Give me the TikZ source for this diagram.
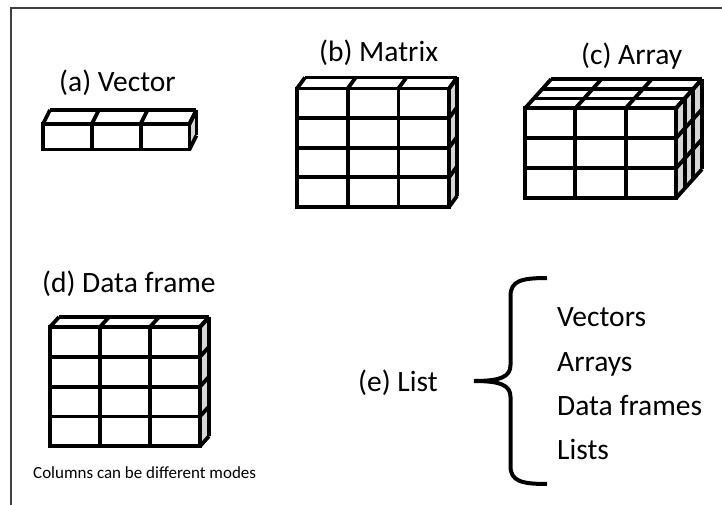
\documentclass[tikz,border=0pt]{standalone}
\usepackage{fontspec}
\setmainfont{Carlito}
\tikzset{
  frameline/.style={draw=black!75, line width=1.3pt},
  gridline/.style={draw=black, line width=3.8pt},
  sideface/.style={fill=black!16},
  topface/.style={fill=white},
  biglabel/.style={inner sep=0pt, anchor=base west, font=\fontsize{29.5}{31}\selectfont},
  smalllabel/.style={inner sep=0pt, anchor=base west, font=\fontsize{17}{19}\selectfont},
  bracepath/.style={draw=black, line width=4pt, line cap=butt},
}
% #1 x0, #2 y0, #3 cell width, #4 row height, #5 columns, #6 rows, #7 dx, #8 dy, #9 depth layers
\newcommand\gridcube[9]{%
  \begin{scope}[shift={(#1,#2)}]
    \pgfmathsetmacro\gW{#3*#5}
    \pgfmathsetmacro\gH{#4*#6}
    \pgfmathsetmacro\gDX{#7*#9}
    \pgfmathsetmacro\gDY{#8*#9}
    % faces
    \fill[sideface] (\gW,0) -- ++(\gDX,\gDY) -- ++(0,\gH) -- (\gW,\gH) -- cycle;
    \fill[topface] (0,0) -- (\gDX,\gDY) -- ++(\gW,0) -- (\gW,0) -- cycle;
    \fill[white] (0,0) rectangle (\gW,\gH);
    % top face lines
    \foreach \i in {0,...,#5} {\draw[gridline] ({\i*#3},0) -- ++(\gDX,\gDY);}
    \foreach \k in {1,...,#9} {\draw[gridline] ({\k*#7},{\k*#8}) -- ++(\gW,0);}
    % side face lines
    \foreach \j in {0,...,#6} {\draw[gridline] (\gW,{\j*#4}) -- ++(\gDX,\gDY);}
    \foreach \k in {1,...,#9} {\draw[gridline] ({\gW+\k*#7},{\k*#8}) -- ++(0,\gH);}
    % front face
    \foreach \i in {1,...,#5} {\draw[gridline] ({\i*#3},0) -- ({\i*#3},\gH);}
    \foreach \j in {1,...,#6} {\draw[gridline] (0,{\j*#4}) -- (\gW,{\j*#4});}
    \draw[gridline] (0,0) rectangle (\gW,\gH);
  \end{scope}%
}
\begin{document}
\begin{tikzpicture}[x=1pt, y=-1pt]
  \useasboundingbox (0,0) rectangle (722,505);
  \fill[white] (0,0) rectangle (722,505);
  % outer frame (top and left edges visible)
  \draw[frameline] (11,505) -- (11,8) -- (722,8);

  % (a) Vector
  \node[biglabel] (la) at (59,92) {(a) Vector};
  \gridcube{43}{124}{48.8}{25.5}{3}{1}{7}{-14}{1}

  % (b) Matrix
  \node[biglabel] (lb) at (319,62) {(b) Matrix};
  \gridcube{297}{88.5}{50.7}{29.6}{3}{4}{8}{-11}{1}

  % (c) Array
  \node[biglabel] (lc) at (581,65) {(c) Array};
  \gridcube{525}{108.3}{50.3}{30}{3}{3}{8.7}{-9.7}{3}

  % (d) Data frame
  \node[biglabel] (ld) at (42,292) {(d) Data frame};
  \gridcube{50}{327}{50}{29.8}{3}{4}{9}{-10}{1}
  \node[smalllabel] (lcol) at (33,478) {Columns can be different modes};

  % (e) List
  \node[biglabel] (le) at (358,391) {(e) List};
  \coordinate (btop) at (547,278);
  \coordinate (btip) at (474,381);
  \coordinate (bbot) at (547,484);
  \draw[bracepath] (btop) .. controls (521,278) and (510.5,281) .. (510.5,296)
    -- (510.5,365) .. controls (510.5,377) and (500,381) .. (btip)
    .. controls (500,381) and (510.5,385) .. (510.5,397)
    -- (510.5,466) .. controls (510.5,481) and (521,484) .. (bbot);
  \node[biglabel] (v1) at (557,326) {Vectors};
  \node[biglabel] (v2) at (557,371) {Arrays};
  \node[biglabel] (v3) at (557,415) {Data frames};
  \node[biglabel] (v4) at (557,459) {Lists};
\end{tikzpicture}
\end{document}
